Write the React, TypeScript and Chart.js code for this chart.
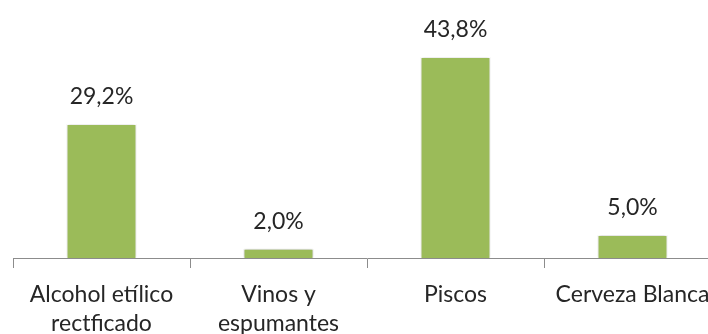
import React, { useEffect, useRef } from "react";
import { Chart, registerables } from "chart.js";

Chart.register(...registerables);

// Share by product category (%)
const categories: (string | string[])[] = [
  ["Alcohol etílico", "rectficado"],
  ["Vinos y", "espumantes"],
  "Piscos",
  "Cerveza Blanca",
];
const shares: number[] = [29.2, 2.0, 43.8, 5.0];

const BAR_COLOR = "#9bbb59";
const TEXT_COLOR = "#262626";
const AXIS_COLOR = "#8c8c8c";
const FONT_FAMILY = "Lato, 'Open Sans', sans-serif";

const formatShare = (v: number) => v.toFixed(1).replace(".", ",") + "%";

// Soft halo around the bars
const barShadow = {
  id: "barShadow",
  beforeDatasetsDraw(chart: Chart) {
    const ctx = chart.ctx;
    ctx.save();
    ctx.shadowColor = "rgba(0,0,0,0.28)";
    ctx.shadowBlur = 3;
    ctx.shadowOffsetX = 0;
    ctx.shadowOffsetY = 0;
  },
  afterDatasetsDraw(chart: Chart) {
    chart.ctx.restore();
  },
};

// Percentage labels above each bar
const valueLabels = {
  id: "valueLabels",
  afterDraw(chart: Chart) {
    const ctx = chart.ctx;
    const meta = chart.getDatasetMeta(0);
    const data = chart.data.datasets[0].data as number[];
    ctx.save();
    ctx.font = `23px ${FONT_FAMILY}`;
    ctx.fillStyle = TEXT_COLOR;
    ctx.textAlign = "center";
    ctx.textBaseline = "middle";
    meta.data.forEach((bar: any, i: number) => {
      ctx.fillText(formatShare(data[i]), bar.x, bar.y - 27);
    });
    ctx.restore();
  },
};

export default function App() {
  const canvasRef = useRef<HTMLCanvasElement | null>(null);

  useEffect(() => {
    if (!canvasRef.current) return;
    const chart = new Chart(canvasRef.current, {
      type: "bar",
      data: {
        labels: categories,
        datasets: [
          {
            data: shares,
            backgroundColor: BAR_COLOR,
            borderColor: "#ffffff",
            borderWidth: 1,
            categoryPercentage: 1,
            barPercentage: 0.395,
          },
        ],
      },
      options: {
        responsive: false,
        animation: false,
        events: [],
        layout: { padding: { top: 28.5, left: 13, right: 9, bottom: 0 } },
        plugins: {
          legend: { display: false },
          tooltip: { enabled: false },
        },
        scales: {
          x: {
            offset: true,
            afterFit(scale: any) {
              scale.height = 76;
            },
            grid: {
              display: true,
              drawOnChartArea: false,
              drawTicks: true,
              tickLength: 10,
              color: AXIS_COLOR,
              offset: true,
            },
            border: { display: true, color: AXIS_COLOR, width: 1 },
            ticks: {
              color: TEXT_COLOR,
              padding: 12,
              maxRotation: 0,
              autoSkip: false,
              font: { family: FONT_FAMILY, size: 23, lineHeight: 1.25 },
            },
          },
          y: {
            display: false,
            min: 0,
            max: 50,
          },
        },
      },
      plugins: [barShadow, valueLabels],
    });
    return () => chart.destroy();
  }, []);

  return (
    <div
      style={{
        position: "fixed",
        left: 0,
        top: 0,
        width: 708,
        height: 334,
        overflow: "hidden",
        background: "#ffffff",
      }}
    >
      <canvas ref={canvasRef} width={730} height={334} style={{ display: "block" }} />
    </div>
  );
}
